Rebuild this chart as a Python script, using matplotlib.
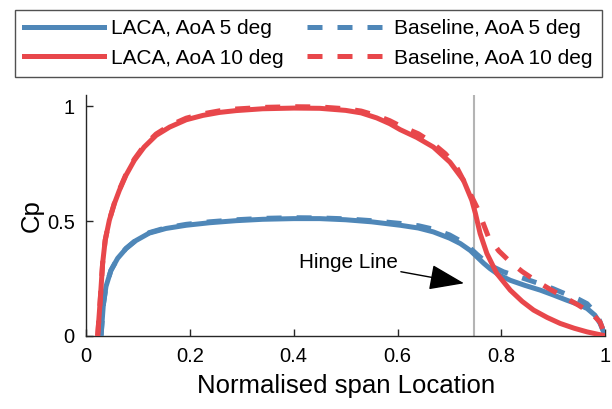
import matplotlib
matplotlib.use("Agg")
import matplotlib.pyplot as plt

plt.rcParams["font.family"] = ["Liberation Sans", "DejaVu Sans"]

# spanwise pressure coefficient, LACA vs baseline
laca5_x = [0.029, 0.0334, 0.0385, 0.048, 0.061, 0.077, 0.096, 0.122, 0.154, 0.193,
           0.238, 0.289, 0.340, 0.40, 0.45, 0.50, 0.55, 0.605, 0.640, 0.669, 0.700,
           0.721, 0.740, 0.753, 0.766, 0.778, 0.795, 0.817, 0.845, 0.875, 0.900,
           0.926, 0.948, 0.965, 0.980, 0.990, 1.0]
laca5_y = [0.0, 0.135, 0.215, 0.285, 0.338, 0.380, 0.415, 0.448, 0.468, 0.482,
           0.493, 0.502, 0.508, 0.511, 0.511, 0.506, 0.497, 0.482, 0.470, 0.453, 0.426,
           0.402, 0.372, 0.344, 0.316, 0.293, 0.266, 0.242, 0.220, 0.199, 0.178,
           0.155, 0.137, 0.119, 0.090, 0.054, 0.0]

base5_x = [0.029, 0.0334, 0.0385, 0.048, 0.061, 0.077, 0.096, 0.122, 0.154, 0.193,
           0.238, 0.289, 0.340, 0.40, 0.45, 0.50, 0.55, 0.605, 0.640, 0.669, 0.700,
           0.720, 0.740, 0.753, 0.766, 0.780, 0.804, 0.830, 0.850, 0.875, 0.900,
           0.926, 0.948, 0.965, 0.985, 1.0]
base5_y = [0.0, 0.135, 0.215, 0.285, 0.338, 0.381, 0.417, 0.450, 0.471, 0.486,
           0.497, 0.506, 0.512, 0.515, 0.514, 0.510, 0.502, 0.490, 0.480, 0.465, 0.440,
           0.415, 0.382, 0.355, 0.330, 0.305, 0.279, 0.260, 0.245, 0.226, 0.205,
           0.180, 0.160, 0.140, 0.090, 0.0]

laca10_x = [0.0225, 0.027, 0.032, 0.037, 0.045, 0.0546, 0.0642, 0.077, 0.093, 0.112,
            0.135, 0.161, 0.193, 0.225, 0.257, 0.289, 0.340, 0.40, 0.45, 0.50, 0.53,
            0.56, 0.585, 0.605, 0.637, 0.669, 0.701, 0.727, 0.743, 0.750, 0.759, 0.772,
            0.791, 0.817, 0.840, 0.862, 0.888, 0.913, 0.940, 0.965, 0.985, 1.0]
laca10_y = [0.0, 0.141, 0.315, 0.417, 0.504, 0.576, 0.634, 0.700, 0.765, 0.823,
            0.874, 0.910, 0.942, 0.961, 0.974, 0.982, 0.990, 0.993, 0.992, 0.983, 0.972,
            0.950, 0.925, 0.899, 0.865, 0.823, 0.757, 0.678, 0.591, 0.533, 0.446, 0.359,
            0.272, 0.199, 0.150, 0.112, 0.080, 0.054, 0.033, 0.017, 0.007, 0.0]

base10_x = [0.0225, 0.027, 0.032, 0.037, 0.045, 0.0546, 0.0642, 0.077, 0.093, 0.112,
            0.135, 0.161, 0.193, 0.225, 0.257, 0.289, 0.340, 0.40, 0.45, 0.50, 0.53,
            0.56, 0.585, 0.605, 0.640, 0.665, 0.692, 0.712, 0.727, 0.742, 0.754, 0.765,
            0.775, 0.795, 0.817, 0.840, 0.865, 0.892, 0.920, 0.948, 0.974, 0.990, 1.0]
base10_y = [0.0, 0.141, 0.315, 0.417, 0.505, 0.578, 0.637, 0.704, 0.770, 0.829,
            0.880, 0.917, 0.949, 0.968, 0.981, 0.989, 0.996, 0.999, 0.998, 0.990, 0.980,
            0.960, 0.938, 0.915, 0.881, 0.845, 0.794, 0.743, 0.678, 0.610, 0.555, 0.490,
            0.431, 0.370, 0.322, 0.280, 0.242, 0.205, 0.170, 0.134, 0.097, 0.060, 0.0]

hinge_x = 0.747

blue = "#4f87b8"
red = "#e8474b"

fig = plt.figure(figsize=(6.12, 4.09), dpi=100)
ax = fig.add_axes([0.1405, 0.179, 0.8485, 0.5887])

ax.axvline(hinge_x, color="#b4b4b4", lw=1.5, zorder=1)

dash = (0, (3.0, 3.0))
lw = 3.6
ax.plot(laca5_x, laca5_y, color=blue, lw=lw, label="LACA, AoA 5 deg", zorder=3)
ax.plot(base5_x, base5_y, color=blue, lw=lw, ls=dash, label="Baseline, AoA 5 deg", zorder=3)
ax.plot(laca10_x, laca10_y, color=red, lw=lw, label="LACA, AoA 10 deg", zorder=4)
ax.plot(base10_x, base10_y, color=red, lw=lw, ls=dash, label="Baseline, AoA 10 deg", zorder=4)

ax.annotate("Hinge Line", xy=(0.728, 0.229), xytext=(0.601, 0.321),
            fontsize=14.9, ha="right", va="center",
            arrowprops=dict(arrowstyle="-|>,head_length=22,head_width=8",
                            mutation_scale=1, color="black", lw=1,
                            shrinkA=0, shrinkB=0))

ax.set_xlim(0, 1)
ax.set_ylim(0, 1.05)
ax.set_xticks([0, 0.2, 0.4, 0.6, 0.8, 1])
ax.set_xticklabels(["0", "0.2", "0.4", "0.6", "0.8", "1"])
ax.set_yticks([0, 0.5, 1])
ax.set_yticklabels(["0", "0.5", "1"])
ax.tick_params(direction="in", length=5, width=1, labelsize=14.5, colors="#262626",
               labelcolor="black", pad=8)
for side in ["top", "right"]:
    ax.spines[side].set_visible(False)
for side in ["left", "bottom"]:
    ax.spines[side].set_color("#262626")
    ax.spines[side].set_linewidth(1)

ax.set_xlabel("Normalised span Location", fontsize=18.5, labelpad=6)
ax.set_ylabel("Cp", fontsize=18.5)
ax.yaxis.set_label_coords(-0.082, 0.5)

h, l = ax.get_legend_handles_labels()
order = [0, 2, 1, 3]
leg = fig.legend([h[i] for i in order], [l[i] for i in order], ncol=2,
                 loc="upper left", bbox_to_anchor=(15 / 612, 1 - 10 / 409),
                 fontsize=15, frameon=True, fancybox=False, handlelength=3.84,
                 handletextpad=0.34, columnspacing=1.1, borderpad=0.45,
                 labelspacing=0.5, borderaxespad=0)
leg.get_frame().set_edgecolor("#262626")
leg.get_frame().set_linewidth(1)

fig.savefig("out.png", dpi=100)
